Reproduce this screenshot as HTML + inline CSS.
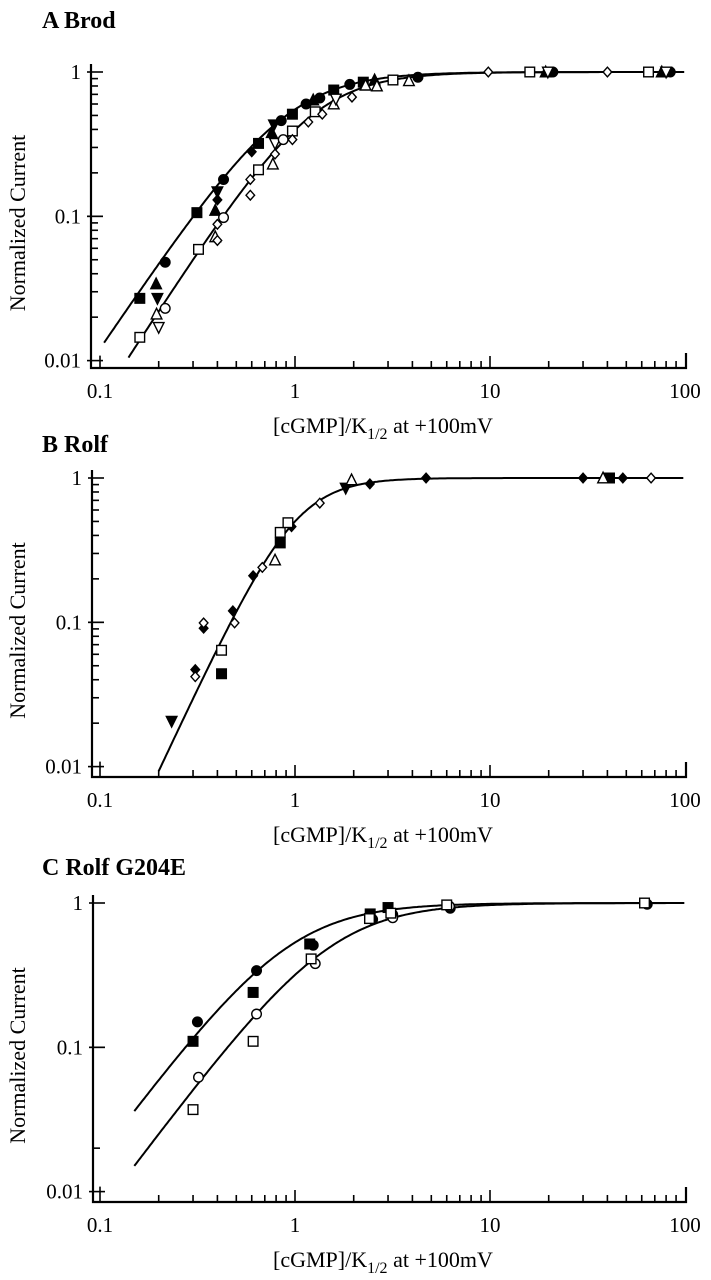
<!DOCTYPE html>
<html><head><meta charset="utf-8">
<style>
html,body{margin:0;padding:0;background:#fff;}
svg{display:block;font-family:"Liberation Serif",serif;}
</style></head>
<body>
<svg id="fig" width="711" height="1280" viewBox="0 0 711 1280" xmlns="http://www.w3.org/2000/svg"></svg>
<script>
// ---- Panel A (Brod) data ----
const aFilledSquareX=[0.16,0.314,0.65,0.97,1.58,2.24];
const aFilledSquareY=[0.027,0.106,0.32,0.51,0.75,0.85];
const aFilledTriX=[0.194,0.39,0.76,1.24,2.56,19.3,76];
const aFilledTriY=[0.034,0.11,0.38,0.64,0.88,1.0,1.0];
const aFilledCircX=[0.216,0.43,0.85,1.14,1.34,1.91,4.27,21,84];
const aFilledCircY=[0.048,0.18,0.46,0.6,0.66,0.82,0.92,1.0,1.0];
const aFilledInvX=[0.197,0.40,0.78];
const aFilledInvY=[0.027,0.148,0.43];
const aFilledDiaX=[0.40,0.60];
const aFilledDiaY=[0.13,0.28];
const aOpenSquareX=[0.16,0.32,0.65,0.97,1.27,3.18,16,65];
const aOpenSquareY=[0.0145,0.059,0.21,0.39,0.53,0.88,1.0,1.0];
const aOpenTriX=[0.195,0.39,0.77,1.58,2.30,2.63,3.84];
const aOpenTriY=[0.021,0.072,0.23,0.6,0.81,0.8,0.87];
const aOpenInvX=[0.2,0.79,1.62,19.8,80];
const aOpenInvY=[0.017,0.32,0.65,1.0,1.0];
const aOpenCircX=[0.216,0.43,0.87];
const aOpenCircY=[0.023,0.098,0.34];
const aOpenDiaX=[0.40,0.40,0.59,0.59,0.79,0.97,1.17,1.38,1.96,9.8,40];
const aOpenDiaY=[0.068,0.088,0.14,0.18,0.27,0.34,0.45,0.51,0.67,1.0,1.0];
const aFitN=[2.0,2.1];
const aFitK=[0.904,1.22];
const aFitStart=[0.105,0.14];

// ---- Panel B (Rolf) data ----
const bFilledInvX=[0.233,1.82];
const bFilledInvY=[0.0206,0.85];
const bFilledDiaX=[0.308,0.34,0.48,0.61,0.96,2.42,4.7,30,48];
const bFilledDiaY=[0.047,0.091,0.12,0.21,0.46,0.91,1.0,1.0,1.0];
const bFilledSquareX=[0.42,0.84,41];
const bFilledSquareY=[0.044,0.355,1.0];
const bOpenDiaX=[0.308,0.34,0.49,0.68,1.34,67];
const bOpenDiaY=[0.042,0.099,0.099,0.24,0.67,1.0];
const bOpenSquareX=[0.42,0.84,0.92];
const bOpenSquareY=[0.064,0.42,0.49];
const bOpenTriX=[0.79,1.95,38];
const bOpenTriY=[0.27,0.97,1.0];
const bFitN=[2.9];
const bFitK=[1.0];
const bFitStart=[0.2];

// ---- Panel C (Rolf G204E) data ----
const cFilledCircX=[0.316,0.635,1.24,2.5,3.17,6.25,64];
const cFilledCircY=[0.15,0.34,0.51,0.77,0.83,0.92,0.98];
const cFilledSquareX=[0.30,0.61,1.19,2.43,3.0,62];
const cFilledSquareY=[0.11,0.24,0.52,0.84,0.93,1.0];
const cOpenCircX=[0.32,0.635,1.27,3.17,6.2];
const cOpenCircY=[0.062,0.17,0.38,0.79,0.95];
const cOpenSquareX=[0.30,0.61,1.21,2.41,3.1,6.0,62];
const cOpenSquareY=[0.037,0.11,0.41,0.78,0.85,0.97,1.0];
const cFitN=[1.8,1.8];
const cFitK=[0.93,1.53];
const cFitStart=[0.15,0.15];

const xTickLabels=["0.1","1","10","100"];
const yTickLabels=["1","0.1","0.01"];

const NS="http://www.w3.org/2000/svg";
const svg=document.getElementById('fig');
function mk(tag,attrs,parent){const e=document.createElementNS(NS,tag);for(const k in attrs)e.setAttribute(k,attrs[k]);(parent||svg).appendChild(e);return e;}

function panel(cfg){
  const g=mk('g',{});
  
  
  const sx=v=>295+195*Math.log10(v);
  const sy=v=>cfg.y1-144.3*Math.log10(v);
  const t=mk('text',{x:42,y:cfg.titleY,'font-size':24,'font-weight':'bold'},g);
  t.textContent=cfg.title;
  
  
  const ax=mk('path',{d:`M${cfg.left},${cfg.y1-8} V${cfg.bottom} H686 V${cfg.bottom-15}`,fill:'none',stroke:'#000','stroke-width':2.2},g);
  
  
  for(let d=-1;d<2;d++){for(let m=1;m<10;m++){const v=m*Math.pow(10,d);if(v<0.1)continue;const x=sx(v);
    const len=(m===1)?(d===-1?cfg.bottom-sy(0.01)+5:12):7;
    const tk=mk('line',{x1:x,x2:x,y1:cfg.bottom,y2:cfg.bottom-len,stroke:'#000','stroke-width':1.6},g);
    
    }}
  xTickLabels.forEach((s,i)=>{const v=Math.pow(10,i-1);
    const tl=mk('text',{x:sx(v),y:cfg.bottom+30,'font-size':21,'text-anchor':'middle'},g);tl.textContent=s;
    
    });
  for(let d=-2;d<0;d++){for(let m=1;m<=10;m++){const v=m*Math.pow(10,d);
    const major=(m===1||m===10);
    if(!major&&!cfg.minor&&!(d===-2&&m===2))continue;
    const y=sy(v);
    const tk=mk('line',{x1:cfg.left-(major?4:0),x2:cfg.left+(major?12:7),y1:y,y2:y,stroke:'#000','stroke-width':1.6},g);
    
    }}
  yTickLabels.forEach((s,i)=>{const v=Math.pow(10,-i);
    const tl=mk('text',{x:cfg.left-10,y:sy(v)+7,'font-size':21,'text-anchor':'end'},g);tl.textContent=s;
    
    });
  const xl=mk('text',{x:273,y:cfg.bottom+65,'font-size':22},g);
  xl.innerHTML='[cGMP]/K<tspan font-size="16" dy="6">1/2</tspan><tspan dy="-6"> at +100mV</tspan>';
  
  
  const yc=(cfg.y1+cfg.bottom)/2+3;
  const yl=mk('text',{x:0,y:0,'font-size':22,'text-anchor':'middle',transform:`translate(25,${yc}) rotate(-90)`},g);
  yl.textContent='Normalized Current';
  
  
  cfg.fitN.forEach((n,i)=>{const K=cfg.fitK[i];let d='';
    for(let lx=Math.log10(cfg.fitStart[i]);lx<=2.0001;lx+=0.01){const x=Math.pow(10,lx);const y=Math.pow(x,n)/(Math.pow(x,n)+Math.pow(K,n));
      d+=(d?'L':'M')+sx(x).toFixed(1)+','+sy(y).toFixed(1);}
    const p=mk('path',{d:d,fill:'none',stroke:'#000','stroke-width':2},g);
    
    });
  cfg.series.forEach(s=>{s.x.forEach((xv,i)=>{const X=sx(xv),Y=sy(s.y[i]);const r=4.8;
    const fill=s.filled?'#000':'#fff';let e;
    const at={fill:fill,stroke:'#000','stroke-width':1.4};
    if(s.shape==='circle'){e=mk('circle',Object.assign({cx:X,cy:Y,r:r},at),g);}
    else if(s.shape==='square'){e=mk('rect',Object.assign({x:X-r,y:Y-r,width:2*r,height:2*r},at),g);}
    else if(s.shape==='tri'){e=mk('polygon',Object.assign({points:`${X},${Y-r-1} ${X-r-0.5},${Y+r} ${X+r+0.5},${Y+r}`},at),g);}
    else if(s.shape==='inv'){e=mk('polygon',Object.assign({points:`${X},${Y+r+1} ${X-r-0.5},${Y-r} ${X+r+0.5},${Y-r}`},at),g);}
    else {e=mk('polygon',Object.assign({points:`${X},${Y-r} ${X-r+0.5},${Y} ${X},${Y+r} ${X+r-0.5},${Y}`},at),g);}
    
    });});
}

panel({name:'panel-a-brod',title:'A  Brod',titleY:28,y1:72,bottom:368,left:91,minor:true,
  fitN:aFitN,fitK:aFitK,fitStart:aFitStart,series:[
  {name:'point-filled-square',shape:'square',filled:true,x:aFilledSquareX,y:aFilledSquareY},
  {name:'point-filled-triangle',shape:'tri',filled:true,x:aFilledTriX,y:aFilledTriY},
  {name:'point-filled-circle',shape:'circle',filled:true,x:aFilledCircX,y:aFilledCircY},
  {name:'point-filled-inverted-triangle',shape:'inv',filled:true,x:aFilledInvX,y:aFilledInvY},
  {name:'point-filled-diamond',shape:'dia',filled:true,x:aFilledDiaX,y:aFilledDiaY},
  {name:'point-open-square',shape:'square',filled:false,x:aOpenSquareX,y:aOpenSquareY},
  {name:'point-open-triangle',shape:'tri',filled:false,x:aOpenTriX,y:aOpenTriY},
  {name:'point-open-inverted-triangle',shape:'inv',filled:false,x:aOpenInvX,y:aOpenInvY},
  {name:'point-open-circle',shape:'circle',filled:false,x:aOpenCircX,y:aOpenCircY},
  {name:'point-open-diamond',shape:'dia',filled:false,x:aOpenDiaX,y:aOpenDiaY}]});

panel({name:'panel-b-rolf',title:'B  Rolf',titleY:452,y1:478,bottom:777,left:92,minor:true,
  fitN:bFitN,fitK:bFitK,fitStart:bFitStart,series:[
  {name:'point-filled-inverted-triangle',shape:'inv',filled:true,x:bFilledInvX,y:bFilledInvY},
  {name:'point-filled-diamond',shape:'dia',filled:true,x:bFilledDiaX,y:bFilledDiaY},
  {name:'point-filled-square',shape:'square',filled:true,x:bFilledSquareX,y:bFilledSquareY},
  {name:'point-open-diamond',shape:'dia',filled:false,x:bOpenDiaX,y:bOpenDiaY},
  {name:'point-open-square',shape:'square',filled:false,x:bOpenSquareX,y:bOpenSquareY},
  {name:'point-open-triangle',shape:'tri',filled:false,x:bOpenTriX,y:bOpenTriY}]});

panel({name:'panel-c-rolf-g204e',title:'C  Rolf G204E',titleY:875,y1:903,bottom:1202,left:93,minor:false,
  fitN:cFitN,fitK:cFitK,fitStart:cFitStart,series:[
  {name:'point-filled-circle',shape:'circle',filled:true,x:cFilledCircX,y:cFilledCircY},
  {name:'point-filled-square',shape:'square',filled:true,x:cFilledSquareX,y:cFilledSquareY},
  {name:'point-open-circle',shape:'circle',filled:false,x:cOpenCircX,y:cOpenCircY},
  {name:'point-open-square',shape:'square',filled:false,x:cOpenSquareX,y:cOpenSquareY}]});
</script>
</body></html>
